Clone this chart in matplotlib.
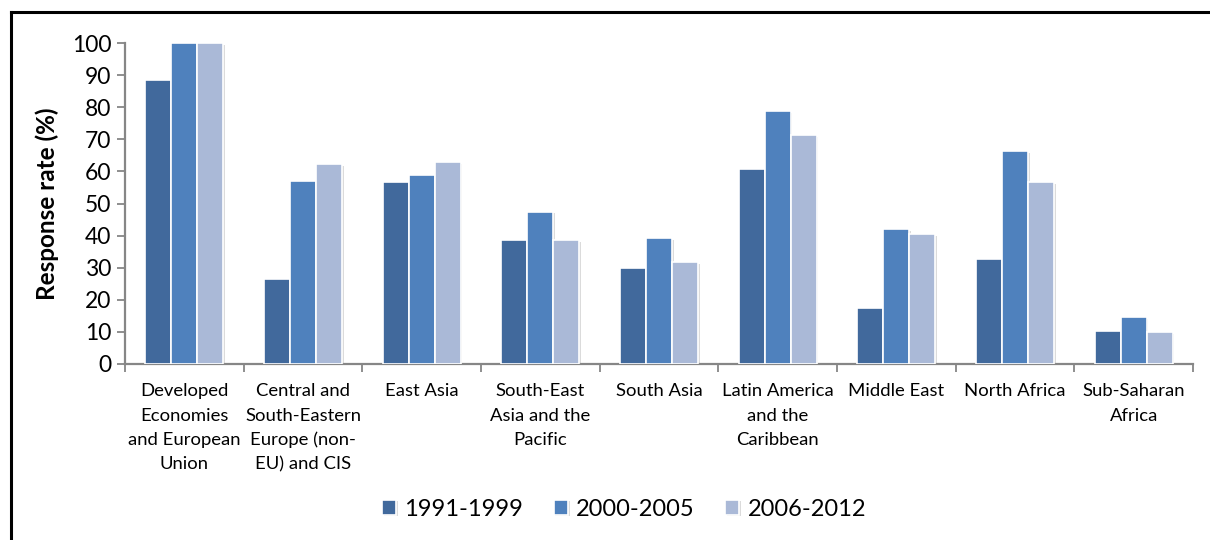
import matplotlib
matplotlib.use("Agg")
import matplotlib.pyplot as plt
import matplotlib.patheffects as pe
from matplotlib.lines import Line2D
import numpy as np

plt.rcParams['font.family'] = ['Lato', 'DejaVu Sans']

categories = [
    "Developed\nEconomies\nand European\nUnion",
    "Central and\nSouth-Eastern\nEurope (non-\nEU) and CIS",
    "East Asia",
    "South-East\nAsia and the\nPacific",
    "South Asia",
    "Latin America\nand the\nCaribbean",
    "Middle East",
    "North Africa",
    "Sub-Saharan\nAfrica",
]
series_names = ["1991-1999", "2000-2005", "2006-2012"]
rate_1991_1999 = [88.4, 26.6, 56.6, 38.5, 30.0, 60.9, 17.6, 32.8, 10.2]
rate_2000_2005 = [100.0, 57.0, 59.0, 47.5, 39.3, 78.7, 42.0, 66.3, 14.5]
rate_2006_2012 = [100.0, 62.3, 62.8, 38.5, 31.7, 71.2, 40.4, 56.6, 10.0]
y_ticks = list(range(0, 101, 10))

colors = ["#41699C", "#4F81BD", "#AAB9D7"]
series = [rate_1991_1999, rate_2000_2005, rate_2006_2012]

fig = plt.figure(figsize=(12.1, 5.4), dpi=100)
ax = fig.add_axes([125 / 1210, 1 - 364 / 540, (1193 - 125) / 1210, (364 - 43) / 540])

x = np.arange(len(categories))
width = 0.22
shadow = [pe.SimplePatchShadow(offset=(1.2, -1.2), shadow_rgbFace="#999999", alpha=0.35),
          pe.Normal()]
for i, (vals, name, col) in enumerate(zip(series, series_names, colors)):
    bars = ax.bar(x + (i - 1) * width, vals, width, color=col, edgecolor="white",
                  linewidth=1.2, label=name, zorder=3)
    for b in bars:
        b.set_path_effects(shadow)

ax.set_xlim(-0.5, len(categories) - 0.5)
ax.set_ylim(0, 100)
ax.set_yticks(y_ticks)
ax.tick_params(axis="y", labelsize=16.5, length=6, width=1.3, color="#868686", pad=4)

ax.set_xticks(x)
ax.set_xticklabels(categories, fontsize=13.3, linespacing=1.62)
ax.tick_params(axis="x", which="major", length=0, pad=14)
ax.set_xticks(np.arange(-0.5, len(categories), 1.0), minor=True)
ax.tick_params(axis="x", which="minor", length=6, width=1.3, color="#868686")

for s in ["top", "right"]:
    ax.spines[s].set_visible(False)
for s in ["left", "bottom"]:
    ax.spines[s].set_color("#868686")
    ax.spines[s].set_linewidth(1.6)

ax.set_ylabel("Response rate (%)", fontsize=17.5, fontweight="bold", labelpad=9)

leg = fig.legend(loc="center", bbox_to_anchor=(624 / 1210, 1 - 509 / 540), ncol=3,
                 frameon=False, fontsize=17, handlelength=0.6, handleheight=0.6,
                 handletextpad=0.34, columnspacing=1.3)

# outer frame: top and left rules
fig.add_artist(Line2D([11 / 1210, 1.0], [1 - 12 / 540, 1 - 12 / 540],
                      transform=fig.transFigure, color="black", linewidth=2.2))
fig.add_artist(Line2D([11 / 1210, 11 / 1210], [0.0, 1 - 12 / 540],
                      transform=fig.transFigure, color="black", linewidth=2.2))

fig.savefig("out.png", dpi=100, facecolor="white")
